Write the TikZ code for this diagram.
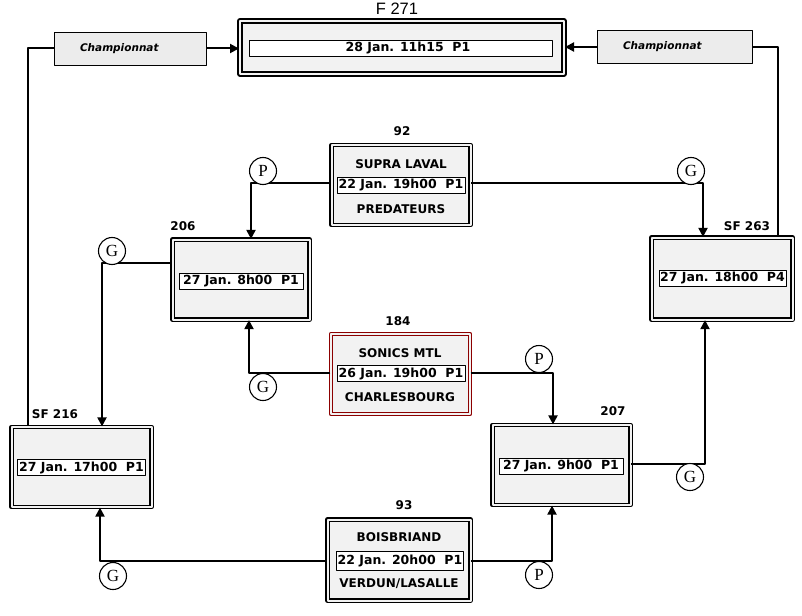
\documentclass[tikz,border=0pt]{standalone}
\usepackage{fontspec}
\setsansfont{DejaVu Sans}[ItalicFont={DejaVu Sans Oblique}, BoldFont={DejaVu Sans Bold}, BoldItalicFont={DejaVu Sans Bold Oblique}]
\newfontfamily\headfont{Liberation Sans}
\newfontfamily\circfont{Liberation Serif}
\usetikzlibrary{arrows.meta}

\begin{document}
\begin{tikzpicture}[
    x = 1pt, y = -1pt,
    line join=round,
    link/.style = {line width=2pt},
    arrowlink/.style = {link, -{Triangle[length=9pt, width=9pt]}},
    gamebox/.style = {draw, line width=1.2pt, double=gray!10, double distance=2pt, fill=gray!10, minimum width=139pt, minimum height=80pt, inner sep=0pt},
    datebox/.style = {draw, line width=0.6pt, fill=white, minimum width=128pt, minimum height=16pt, inner sep=0pt, font=\sffamily\bfseries\fontsize{12.5}{12.5}\selectfont},
    team/.style = {font=\sffamily\bfseries\fontsize{12}{12}\selectfont},
    number/.style = {font=\sffamily\bfseries\fontsize{12}{12}\selectfont},
    champbox/.style = {draw, line width=0.6pt, fill=gray!15, minimum height=33pt, inner xsep=26pt, align=left, font=\sffamily\bfseries\itshape\fontsize{10.5}{10.5}\selectfont},
    letter/.style = {draw, line width=1.1pt, circle, fill=white, minimum size=27pt, inner sep=0pt, font=\circfont\fontsize{17}{17}\selectfont}
]
    \useasboundingbox (0,0) rectangle (802,615);

    % final
    \node[draw, line width=2pt, double=gray!10, double distance=1.8pt, fill=gray!10, minimum width=324pt, minimum height=53pt] (f271) at (402,47.5) {};
    \node[datebox, minimum width=303pt] (d271) at (401,48) {\hspace*{14pt}28 Jan. 11h15~~P1};
    \node[font=\headfont\fontsize{16.5}{16.5}\selectfont] (t271) at (397,9) {F 271};

    \node[champbox, text width=100pt] (champL) at (130,48.5) {Championnat};
    \node[champbox, text width=103pt] (champR) at (674.5,47) {Championnat};

    % games
    \node[gamebox] (g92) at (401,185) {};
    \node[gamebox, minimum width=137pt] (g206) at (241,279.5) {};
    \node[gamebox, draw=red!55!black] (g184) at (400.5,374) {};
    \node[gamebox, minimum width=138pt] (g207) at (561.5,465) {};
    \node[gamebox, minimum width=141pt, minimum height=82pt] (sf263) at (722,278.5) {};
    \node[gamebox, minimum width=140pt] (sf216) at (81.5,467) {};
    \node[gamebox, minimum width=143pt, minimum height=81pt] (g93) at (399,560) {};

    \node[datebox] (d92) at (401,185) {22 Jan. 19h00~~P1};
    \node[datebox, minimum width=124pt] (d206) at (241,281) {27 Jan. 8h00~~P1};
    \node[datebox] (d184) at (401,373.5) {26 Jan. 19h00~~P1};
    \node[datebox, minimum width=124pt] (d207) at (561,466) {27 Jan. 9h00~~P1};
    \node[datebox, minimum width=127pt] (d263) at (722.5,278) {27 Jan. 18h00~~P4};
    \node[datebox] (d216) at (81.5,467.5) {27 Jan. 17h00~~P1};
    \node[datebox, minimum width=127pt, minimum height=19pt] (d93) at (400,561) {22 Jan. 20h00~~P1};

    \node[team] (t92a) at (401,164) {SUPRA LAVAL};
    \node[team] (t92b) at (401,209) {PREDATEURS};
    \node[team] (t184a) at (400,353) {SONICS MTL};
    \node[team] (t184b) at (400,397) {CHARLESBOURG};
    \node[team] (t93a) at (399,537) {BOISBRIAND};
    \node[team] (t93b) at (399,584) {VERDUN/LASALLE};

    \node[number] (n92) at (402,131) {92};
    \node[number] (n206) at (183,226) {206};
    \node[number] (n184) at (398,321) {184};
    \node[number] (n207) at (613,411) {207};
    \node[number] (n263) at (747,226) {SF 263};
    \node[number] (n216) at (55,414) {SF 216};
    \node[number] (n93) at (404,505) {93};

    % links
    \coordinate (c1) at (28,48);
    \coordinate (c2) at (778,47);
    \coordinate (c3) at (251,183);
    \coordinate (c4) at (703,183);
    \coordinate (c5) at (102,263);
    \coordinate (c6) at (249,373);
    \coordinate (c7) at (553,373);
    \coordinate (c8) at (705,464);
    \coordinate (c9) at (100,561);
    \coordinate (c10) at (552,561);

    \draw[link] (champL.west |- c1) -- (c1) -- (c1 |- sf216.north);
    \draw[link] (champR.east |- c2) -- (c2) -- (c2 |- sf263.north);
    \draw[arrowlink] (champL.east) -- (f271.west |- champL.east);
    \draw[arrowlink] (champR.west) -- (f271.east |- champR.west);

    \draw[arrowlink] (g92.west |- c3) -- (c3) -- (c3 |- g206.north);
    \draw[arrowlink] (g92.east |- c4) -- (c4) -- (c4 |- sf263.north);
    \draw[arrowlink] (g206.west |- c5) -- (c5) -- (c5 |- sf216.north);
    \draw[arrowlink] (g184.west |- c6) -- (c6) -- (c6 |- g206.south);
    \draw[arrowlink] (g184.east |- c7) -- (c7) -- (c7 |- g207.north);
    \draw[arrowlink] (g207.east |- c8) -- (c8) -- (c8 |- sf263.south);
    \draw[arrowlink] (g93.west |- c9) -- (c9) -- (c9 |- sf216.south);
    \draw[arrowlink] (g93.east |- c10) -- (c10) -- (c10 |- g207.south);

    % winner / loser marks
    \node[letter] (p92) at (263,171) {P};
    \node[letter] (g92w) at (691,171) {G};
    \node[letter] (g206w) at (112,251) {G};
    \node[letter] (g184w) at (263,387) {G};
    \node[letter] (p184) at (539,359) {P};
    \node[letter] (g207w) at (690,477) {G};
    \node[letter] (g93w) at (113,576) {G};
    \node[letter] (p93) at (539,575) {P};

\end{tikzpicture}
\end{document}
